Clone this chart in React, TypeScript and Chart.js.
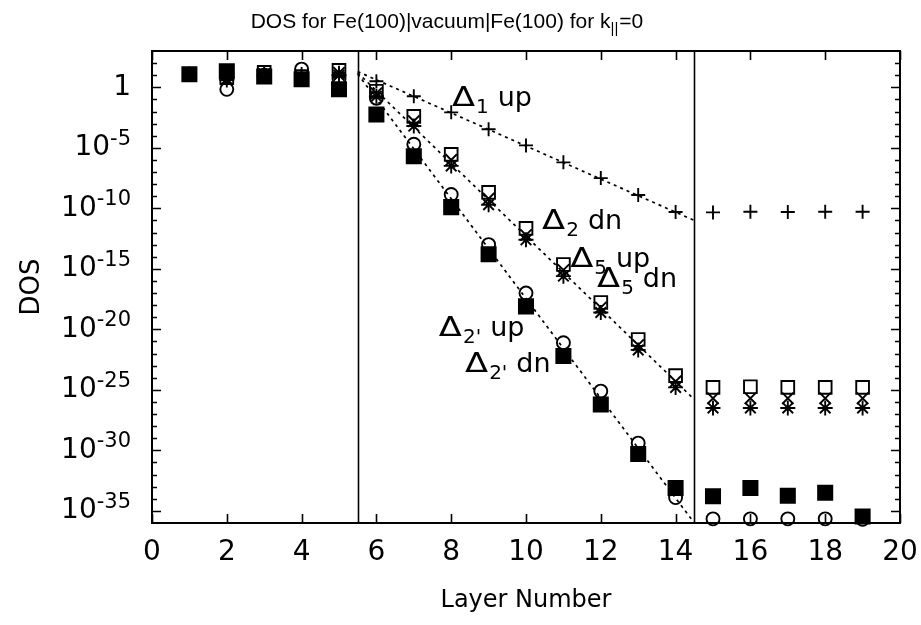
import React, { useEffect, useRef } from 'react';
import { Chart, registerables } from 'chart.js';

Chart.register(...registerables);

// ---- data ----
const layers = [1, 2, 3, 4, 5, 6, 7, 8, 9, 10, 11, 12, 13, 14, 15, 16, 17, 18, 19];

// Δ1 up  (+)
const delta1Up = [1.26e1, 7.9, 1.58e1, 1.26e1, 1.58e1, 3.16, 1.82e-1, 8.5e-3, 3.4e-4, 1.58e-5, 6.3e-7, 3.16e-8, 1.26e-9, 5.0e-11, 4.6e-11, 5.2e-11, 5.0e-11, 5.2e-11, 5.2e-11];
// Δ2 dn  (x)
const delta2Dn = [1.2e1, 5.0, 1.26e1, 6.3, 1.58e1, 3.2e-1, 1.6e-3, 1.0e-6, 6.3e-10, 6.3e-13, 7.9e-16, 6.3e-19, 5.0e-22, 5.0e-25, 2.0e-26, 2.0e-26, 2.0e-26, 2.0e-26, 2.0e-26];
// Δ5 up  (*)
const delta5Up = [1.2e1, 4.0, 1.0e1, 5.0, 1.0e1, 1.8e-1, 6.3e-4, 3.2e-7, 2.0e-10, 2.5e-13, 2.5e-16, 2.5e-19, 2.0e-22, 1.6e-25, 3.2e-27, 3.2e-27, 3.2e-27, 3.2e-27, 3.2e-27];
// Δ5 dn  (open square)
const delta5Dn = [1.2e1, 6.3, 1.74e1, 7.9, 2.5e1, 4.7e-1, 4.0e-3, 2.9e-6, 2.1e-9, 2.2e-12, 2.3e-15, 1.66e-18, 1.45e-21, 1.5e-24, 1.6e-25, 1.8e-25, 1.6e-25, 1.6e-25, 1.6e-25];
// Δ2' up (filled square)
const delta2pUp = [1.2e1, 2.1e1, 7.9, 4.6, 6.8e-1, 5.6e-3, 2.0e-6, 1.26e-10, 1.6e-14, 7.9e-19, 6.3e-23, 6.3e-27, 5.0e-31, 7.9e-34, 1.6e-34, 7.9e-34, 1.8e-34, 3.2e-34, 3.5e-36];
// Δ2' dn (open circle)
const delta2pDn = [1.2e1, 6.8e-1, 1.0e1, 3.2e1, 5.0, 1.26e-1, 2.0e-5, 1.4e-9, 1.0e-13, 1.0e-17, 7.9e-22, 7.9e-26, 4.0e-30, 1.26e-34, 2.2e-36, 2.2e-36, 2.2e-36, 2.2e-36, 2.0e-36];

// dotted decay guide lines
const fitX = [5.5, 14.5];
const fitDelta1 = [2.0e1, 1.0e-11];
const fitDelta5 = [1.6e1, 1.6e-26];
const fitDelta2p = [1.26e1, 1.0e-36];

// interfaces (solid vertical lines)
const interfaceX = [5.5, 14.5];

// axis ticks
const xTickValues = [0, 2, 4, 6, 8, 10, 12, 14, 16, 18, 20];
const yMajorValues = [1, 1e-5, 1e-10, 1e-15, 1e-20, 1e-25, 1e-30, 1e-35];
const yTickBase = ['1', '10', '10', '10', '10', '10', '10', '10'];
const yTickSup = ['', '-5', '-10', '-15', '-20', '-25', '-30', '-35'];

// text labels on the curves
const curveLabels = [
  { x: 8.02, y: 2.7e-2, sub: '1', text: 'up' },
  { x: 10.43, y: 1.9e-12, sub: '2', text: 'dn' },
  { x: 11.18, y: 1.4e-15, sub: '5', text: 'up' },
  { x: 11.9, y: 3.2e-17, sub: '5', text: 'dn' },
  { x: 7.67, y: 2.75e-21, sub: "2'", text: 'up' },
  { x: 8.37, y: 3.2e-24, sub: "2'", text: 'dn' },
];

const FONT = '"DejaVu Sans", "Liberation Sans", Arial, sans-serif';
const TITLE_FONT = '"Liberation Sans", Arial, Helvetica, sans-serif';

const toPts = (ys: number[]) => ys.map((v, i) => ({ x: layers[i], y: v }));
const toFit = (ys: number[]) => ys.map((v, i) => ({ x: fitX[i], y: v }));

const decor = {
  id: 'gnuplotDecor',
  beforeDatasetsDraw(chart: any) {
    const { ctx, chartArea: a, scales } = chart;
    const x = scales.x;
    ctx.save();
    ctx.strokeStyle = '#000';
    ctx.lineWidth = 1.6;
    for (const v of interfaceX) {
      const px = Math.round(x.getPixelForValue(v)) + 0.5;
      ctx.beginPath();
      ctx.moveTo(px, a.top);
      ctx.lineTo(px, a.bottom);
      ctx.stroke();
    }
    ctx.restore();
  },
  afterDraw(chart: any) {
    const { ctx, chartArea: a, scales } = chart;
    const x = scales.x;
    const y = scales.y;
    ctx.save();
    ctx.strokeStyle = '#000';
    ctx.fillStyle = '#000';
    // ticks (inward, mirrored)
    ctx.lineWidth = 1.6;
    ctx.beginPath();
    for (const v of xTickValues) {
      const px = Math.round(x.getPixelForValue(v)) + 0.5;
      ctx.moveTo(px, a.bottom);
      ctx.lineTo(px, a.bottom - 9);
      ctx.moveTo(px, a.top);
      ctx.lineTo(px, a.top + 9);
    }
    for (let e = 2; e >= -35; e--) {
      const py = Math.round(y.getPixelForValue(Math.pow(10, e))) + 0.5;
      const len = e % 5 === 0 ? 9 : 5;
      ctx.moveTo(a.left, py);
      ctx.lineTo(a.left + len, py);
      ctx.moveTo(a.right, py);
      ctx.lineTo(a.right - len, py);
    }
    ctx.stroke();
    // frame
    ctx.lineWidth = 2;
    ctx.strokeRect(a.left, a.top, a.right - a.left, a.bottom - a.top);

    // y tick labels with superscripts
    const baseFont = `28px ${FONT}`;
    const supFont = `21px ${FONT}`;
    const rightEdge = a.left - 21;
    ctx.textAlign = 'right';
    yMajorValues.forEach((v, i) => {
      const py = y.getPixelForValue(v);
      if (!yTickSup[i]) {
        ctx.font = baseFont;
        ctx.textBaseline = 'middle';
        ctx.fillText(yTickBase[i], rightEdge, py);
      } else {
        ctx.font = supFont;
        ctx.textBaseline = 'alphabetic';
        const sw = ctx.measureText(yTickSup[i]).width;
        ctx.fillText(yTickSup[i], rightEdge, py - 3);
        ctx.font = baseFont;
        ctx.textBaseline = 'middle';
        ctx.fillText(yTickBase[i], rightEdge - sw, py);
      }
    });

    // title with subscript
    ctx.textAlign = 'left';
    ctx.textBaseline = 'alphabetic';
    const tMain = 'DOS for Fe(100)|vacuum|Fe(100) for k';
    const tSub = '||';
    const tTail = '=0';
    const tFont = `21px ${TITLE_FONT}`;
    const tSubFont = `15px ${TITLE_FONT}`;
    ctx.font = tFont;
    const w1 = ctx.measureText(tMain).width;
    const w3 = ctx.measureText(tTail).width;
    ctx.font = tSubFont;
    const w2 = ctx.measureText(tSub).width + 1;
    const cx = 447;
    let tx = cx - (w1 + w2 + w3) / 2;
    const ty = 28;
    ctx.font = tFont;
    ctx.fillText(tMain, tx, ty);
    tx += w1;
    ctx.font = tSubFont;
    ctx.fillText(tSub, tx, ty + 5);
    tx += w2;
    ctx.font = tFont;
    ctx.fillText(tTail, tx, ty);

    // curve labels
    for (const l of curveLabels) {
      const px = x.getPixelForValue(l.x);
      const py = y.getPixelForValue(l.y);
      ctx.font = `27px ${FONT}`;
      const dw = ctx.measureText('Δ').width * 1.25;
      ctx.save();
      ctx.translate(px, py);
      ctx.scale(1.25, 1);
      ctx.fillText('Δ', 0, 0);
      ctx.restore();
      ctx.font = `20px ${FONT}`;
      const sw = ctx.measureText(l.sub).width;
      ctx.fillText(l.sub, px + dw + 1, py + 7);
      ctx.font = `27px ${FONT}`;
      ctx.fillText(l.text, px + dw + sw + 10, py);
    }
    ctx.restore();
  },
};

export default function App() {
  const ref = useRef<HTMLCanvasElement | null>(null);
  useEffect(() => {
    if (!ref.current) return;
    const black = '#000';
    const clear = 'rgba(0,0,0,0)';
    const pointBase = { showLine: false, borderColor: black, pointBorderColor: black, pointBorderWidth: 1.9, clip: false as any };
    const fitBase = {
      showLine: true,
      borderColor: black,
      borderWidth: 1.7,
      borderDash: [3, 4],
      pointRadius: 0,
      fill: false,
      order: 10,
    };
    const chart = new Chart(ref.current, {
      type: 'scatter',
      data: {
        datasets: [
          { ...fitBase, label: 'fit Δ1', data: toFit(fitDelta1) },
          { ...fitBase, label: 'fit Δ5', data: toFit(fitDelta5) },
          { ...fitBase, label: "fit Δ2'", data: toFit(fitDelta2p) },
          { ...pointBase, label: 'Δ1 up', data: toPts(delta1Up), pointStyle: 'cross', pointRadius: 7, pointBackgroundColor: clear, order: 6 },
          { ...pointBase, label: 'Δ2 dn', data: toPts(delta2Dn), pointStyle: 'crossRot', pointRadius: 8, pointBackgroundColor: clear, order: 5 },
          { ...pointBase, label: 'Δ5 up', data: toPts(delta5Up), pointStyle: 'star', pointRadius: 7.5, pointBackgroundColor: clear, order: 4 },
          { ...pointBase, label: 'Δ5 dn', data: toPts(delta5Dn), pointStyle: 'rect', pointRadius: 9, pointBackgroundColor: clear, order: 3 },
          { ...pointBase, label: "Δ2' up", data: toPts(delta2pUp), pointStyle: 'rect', pointRadius: 10, pointBackgroundColor: black, order: 2 },
          { ...pointBase, label: "Δ2' dn", data: toPts(delta2pDn), pointStyle: 'circle', pointRadius: 6.5, pointBackgroundColor: clear, order: 1 },
        ] as any,
      },
      options: {
        responsive: false,
        animation: false,
        events: [],
        layout: { padding: { top: 51, right: 21, bottom: 0, left: 0 } },
        plugins: {
          legend: { display: false },
          title: { display: false },
          tooltip: { enabled: false },
        },
        scales: {
          x: {
            type: 'linear',
            min: 0,
            max: 20,
            afterBuildTicks: (s: any) => {
              s.ticks = xTickValues.map((v) => ({ value: v }));
            },
            afterFit: (s: any) => {
              s.height = 102;
              s.paddingLeft = 0;
              s.paddingRight = 0;
            },
            grid: { display: false, drawTicks: false },
            border: { display: false },
            ticks: {
              color: '#000',
              font: { family: FONT, size: 28 },
              padding: 13,
              maxRotation: 0,
              autoSkip: false,
            },
            title: {
              display: true,
              text: 'Layer Number',
              color: '#000',
              font: { family: FONT, size: 24 },
              padding: { top: 0, bottom: 10 },
            },
          },
          y: {
            type: 'logarithmic',
            min: 1e-36,
            max: 1e3,
            afterBuildTicks: (s: any) => {
              s.ticks = yMajorValues.map((v) => ({ value: v }));
            },
            afterFit: (s: any) => {
              s.width = 152;
              s.paddingTop = 0;
              s.paddingBottom = 0;
            },
            grid: { display: false, drawTicks: false },
            border: { display: false },
            ticks: { display: false },
            title: {
              display: true,
              text: 'DOS',
              color: '#000',
              font: { family: FONT, size: 26 },
              padding: { top: 17, bottom: 0 },
            },
          },
        },
      },
      plugins: [decor],
    } as any);
    return () => chart.destroy();
  }, []);
  return (
    <div style={{ position: 'fixed', left: 0, top: 0, width: 921, height: 625, background: '#fff' }}>
      <canvas ref={ref} width={921} height={625} style={{ display: 'block' }} />
    </div>
  );
}
